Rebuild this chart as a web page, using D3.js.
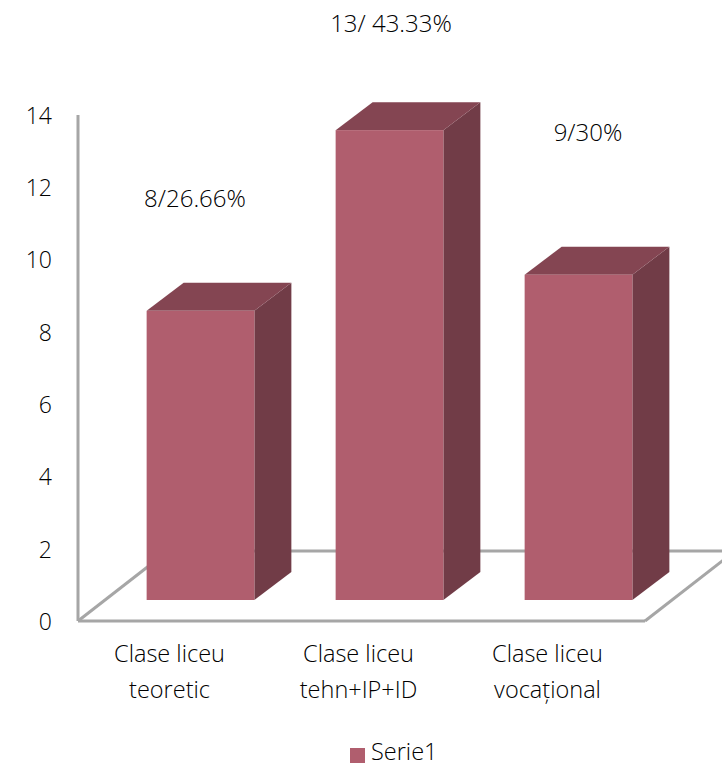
<!DOCTYPE html>
<html>
<meta charset="utf-8">
<script src="https://d3js.org/d3.v7.min.js"></script>
<style>
    body { margin: 0; background: #fff; }
    svg { display: block; }
    text { font-family: "Open Sans", sans-serif; font-weight: 300; fill: #000; }
    .domain, .tick line { display: none; }
    .tick text { font-family: "Open Sans", sans-serif; font-size: 23px; font-weight: 300; fill: #000; }
</style>

<body></body>
<script>
    // data
    const categories = ["teoretic", "tehn+IP+ID", "vocațional"];
    const values = [8, 13, 9];
    const valueLabels = ["8/26.66%", "13/ 43.33%", "9/30%"];
    const yTicks = [0, 2, 4, 6, 8, 10, 12, 14];
    const seriesName = "Serie1";
    const firstLine = "Clase liceu";

    const width = 722,
        height = 767;
    const svg = d3.select("body").append("svg").attr("width", width).attr("height", height);

    // floor corners on the chart
    const x0 = 78, x1 = 645, y0 = 621, yTop = 115;
    const floorDx = 90, floorDy = -70;
    // bars stand inside the floor, shifted back from the front edge
    const barDx = 31, barDy = -21, depthX = 37, depthY = -28;

    const x = d3.scaleBand().domain(categories).range([x0 - 3, x1 - 3]).paddingInner(0.43).paddingOuter(0.215);
    const xLabel = d3.scaleBand().domain(categories).range([x0 - 3, x1 - 3]);
    const y = d3.scaleLinear().domain([0, 14]).range([y0, yTop]);

    // walls and floor
    const axisColor = "#a6a6a6";
    const lines = [
        [[x0, yTop], [x0, y0]],
        [[x0, y0], [x1, y0]],
        [[x0, y0], [x0 + floorDx, y0 + floorDy]],
        [[x1, y0], [x1 + floorDx, y0 + floorDy]],
        [[x0 + floorDx, y0 + floorDy], [x1 + floorDx, y0 + floorDy]]
    ];
    svg.selectAll("path.floor")
        .data(lines)
        .join("path")
        .attr("class", "floor")
        .attr("fill", "none")
        .attr("stroke", axisColor)
        .attr("stroke-width", 3)
        .attr("d", d3.line());

    svg.append("g")
        .attr("transform", `translate(${x0 - 16},1)`)
        .call(d3.axisLeft(y).tickValues(yTicks).tickSize(0).tickPadding(10));

    // 3d bars
    const bar = svg.selectAll("g.bar")
        .data(categories.map((c, i) => ({ c: c, v: values[i] })))
        .join("g")
        .attr("class", "bar")
        .attr("transform", `translate(${barDx},${barDy})`);

    const poly = pts => d3.line()(pts) + "Z";

    bar.append("path")
        .attr("fill", "#713c47")
        .attr("d", d => {
            const r = x(d.c) + x.bandwidth();
            return poly([[r, y(d.v)], [r + depthX, y(d.v) + depthY], [r + depthX, y(0) + depthY], [r, y(0)]]);
        });
    bar.append("path")
        .attr("fill", "#844552")
        .attr("d", d => {
            const l = x(d.c), r = l + x.bandwidth();
            return poly([[l, y(d.v)], [l + depthX, y(d.v) + depthY], [r + depthX, y(d.v) + depthY], [r, y(d.v)]]);
        });
    bar.append("rect")
        .attr("fill", "#b05e6e")
        .attr("x", d => x(d.c))
        .attr("y", d => y(d.v))
        .attr("width", x.bandwidth())
        .attr("height", d => y(0) - y(d.v));

    // category labels, two lines each
    const lab = svg.selectAll("g.cat")
        .data(categories)
        .join("g")
        .attr("class", "cat")
        .attr("transform", d => `translate(${xLabel(d) + xLabel.bandwidth() / 2},0)`);
    lab.append("text").attr("y", 662).attr("text-anchor", "middle").attr("font-size", 23.5).text(firstLine);
    lab.append("text").attr("y", 698).attr("text-anchor", "middle").attr("font-size", 23.5).text(d => d);

    // hand placed value labels as in the original
    const labelX = [195, 391, 588], labelY = [207, 32, 141];
    svg.selectAll("text.val")
        .data(valueLabels)
        .join("text")
        .attr("class", "val")
        .attr("x", (d, i) => labelX[i])
        .attr("y", (d, i) => labelY[i])
        .attr("text-anchor", "middle")
        .attr("font-size", 24)
        .text(d => d);

    // legend
    svg.append("rect").attr("x", 350).attr("y", 748).attr("width", 15).attr("height", 15).attr("fill", "#b05e6e");
    svg.append("text").attr("x", 371).attr("y", 760).attr("font-size", 23.5).text(seriesName);
</script>

</html>
